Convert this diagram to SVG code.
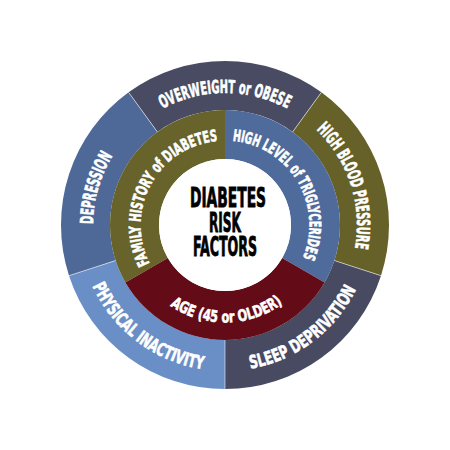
<svg xmlns="http://www.w3.org/2000/svg" width="450" height="450" viewBox="0 0 450 450">
<style>
.seg{stroke:none}
.div{stroke:#ffffff;stroke-opacity:0.55;stroke-width:1}
.lbl{font-family:"Liberation Sans Narrow","DejaVu Sans Condensed","Liberation Sans",sans-serif;font-weight:bold;fill:#ffffff;stroke:#ffffff;stroke-width:0.6}
.outer{font-size:18px}
.inner{font-size:16px}
.title{font-family:"Liberation Sans Narrow","DejaVu Sans Condensed","Liberation Sans",sans-serif;font-weight:bold;font-size:26px;fill:#000000;stroke:#000000;stroke-width:0.8;text-anchor:middle}
</style>
<defs>
<path id="p-over" d="M110.68,159 A132,132 0 0 1 339.32,159"/>
<path id="p-hbp" d="M252.44,95.88 A132,132 0 0 1 323.10,313.33"/>
<path id="p-sleep" d="M167.95,359.39 A146,146 0 0 0 369.91,207.21"/>
<path id="p-phys" d="M80.09,207.21 A146,146 0 0 0 282.05,359.39"/>
<path id="p-dep" d="M130.05,316.69 A132,132 0 0 1 193.07,96.92"/>
<path id="p-fam" d="M166.31,285.77 A84.5,84.5 0 0 1 245.44,143.01"/>
<path id="p-trig" d="M201.71,143.77 A84.5,84.5 0 0 1 285.78,283.70"/>
<path id="p-age" d="M141.42,275.22 A97.5,97.5 0 0 0 310.28,272.27"/>
</defs>
<rect width="450" height="450" fill="#ffffff"/>

<g id="overweight">
<path class="seg" fill="#484b62" d="M128.60,92.32 A164,164 0 0 1 321.40,92.32 L292.60,131.96 A115,115 0 0 0 157.40,131.96 Z"/>
<text class="lbl outer"><textPath href="#p-over" startOffset="50%" text-anchor="middle" textLength="130" lengthAdjust="spacingAndGlyphs">OVERWEIGHT or OBESE</textPath></text>
</g>
<g id="high-blood-pressure">
<path class="seg" fill="#666129" d="M321.40,92.32 A164,164 0 0 1 380.97,275.68 L334.37,260.54 A115,115 0 0 0 292.60,131.96 Z"/>
<text class="lbl outer"><textPath href="#p-hbp" startOffset="50%" text-anchor="middle" textLength="130" lengthAdjust="spacingAndGlyphs">HIGH BLOOD PRESSURE</textPath></text>
</g>
<g id="sleep-deprivation">
<path class="seg" fill="#474a61" d="M380.97,275.68 A164,164 0 0 1 225,389 L225,340 A115,115 0 0 0 334.37,260.54 Z"/>
<text class="lbl outer"><textPath href="#p-sleep" startOffset="50%" text-anchor="middle" textLength="137" lengthAdjust="spacingAndGlyphs">SLEEP DEPRIVATION</textPath></text>
</g>
<g id="physical-inactivity">
<path class="seg" fill="#6a8fc7" d="M225,389 A164,164 0 0 1 69.03,275.68 L115.63,260.54 A115,115 0 0 0 225,340 Z"/>
<text class="lbl outer"><textPath href="#p-phys" startOffset="50%" text-anchor="middle" textLength="144" lengthAdjust="spacingAndGlyphs">PHYSICAL INACTIVITY</textPath></text>
</g>
<g id="depression">
<path class="seg" fill="#4e6998" d="M69.03,275.68 A164,164 0 0 1 128.60,92.32 L157.40,131.96 A115,115 0 0 0 115.63,260.54 Z"/>
<text class="lbl outer"><textPath href="#p-dep" startOffset="50%" text-anchor="middle" textLength="72" lengthAdjust="spacingAndGlyphs">DEPRESSION</textPath></text>
</g>

<g id="family-history">
<path class="seg" fill="#67632a" d="M125.41,282.5 A115,115 0 0 1 225,110 L225,159 A66,66 0 0 0 167.84,258 Z"/>
<text class="lbl inner"><textPath href="#p-fam" startOffset="50%" text-anchor="middle" textLength="165" lengthAdjust="spacingAndGlyphs">FAMILY HISTORY of DIABETES</textPath></text>
</g>
<g id="triglycerides">
<path class="seg" fill="#4f6b9b" d="M225,110 A115,115 0 0 1 324.59,282.5 L282.16,258 A66,66 0 0 0 225,159 Z"/>
<text class="lbl inner"><textPath href="#p-trig" startOffset="50%" text-anchor="middle" textLength="159" lengthAdjust="spacingAndGlyphs">HIGH LEVEL of TRIGLYCERIDES</textPath></text>
</g>
<g id="age">
<path class="seg" fill="#630b17" d="M324.59,282.5 A115,115 0 0 1 125.41,282.5 L167.84,258 A66,66 0 0 0 282.16,258 Z"/>
<text class="lbl inner"><textPath href="#p-age" startOffset="50%" text-anchor="middle" textLength="120" lengthAdjust="spacingAndGlyphs">AGE (45 or OLDER)</textPath></text>
</g>

<g id="dividers">
<line class="div" x1="128.60" y1="92.32" x2="157.40" y2="131.96"/>
<line class="div" x1="321.40" y1="92.32" x2="292.60" y2="131.96"/>
<line class="div" x1="380.97" y1="275.68" x2="334.37" y2="260.54"/>
<line class="div" x1="225" y1="389" x2="225" y2="340"/>
<line class="div" x1="69.03" y1="275.68" x2="115.63" y2="260.54"/>
</g>

<g id="center">
<circle cx="225" cy="225" r="66" fill="#ffffff"/>
<text class="title" x="228" y="207" textLength="76" lengthAdjust="spacingAndGlyphs">DIABETES</text>
<text class="title" x="225" y="232" textLength="32" lengthAdjust="spacingAndGlyphs">RISK</text>
<text class="title" x="225" y="256" textLength="64" lengthAdjust="spacingAndGlyphs">FACTORS</text>
</g>
</svg>
